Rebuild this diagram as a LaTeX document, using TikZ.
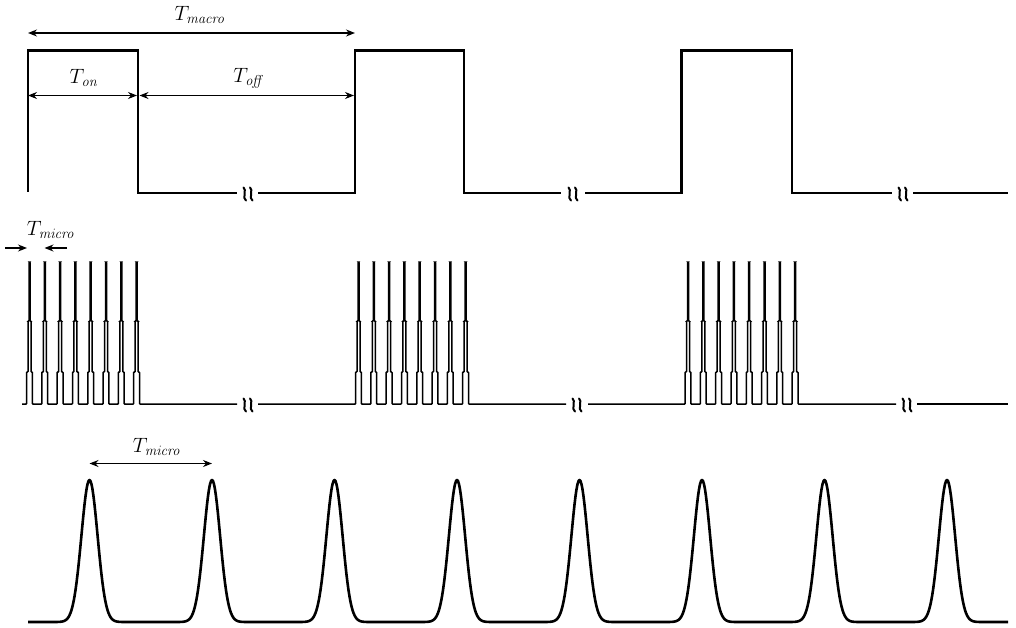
\documentclass[tikz,border=0pt]{standalone}
\usetikzlibrary{arrows.meta}
\tikzset{pulse line/.style={line width=2.2pt}}
\tikzset{spike line/.style={line width=1.5pt,rounded corners=0.6pt}}
\tikzset{gauss line/.style={line width=2.6pt,line join=round}}
\tikzset{dim line/.style={line width=1.3pt}}
\tikzset{break mark/.style={line width=2pt,line cap=round}}
\tikzset{period label/.style={font=\fontsize{21}{24}\selectfont,inner sep=0pt}}
% two wavy strokes marking an omitted stretch of time
\newcommand{\breakmark}[2]{%
  \draw[break mark] (#1-4.5,#2-6.5) .. controls (#1-1,#2-5) and (#1-6,#2+5) .. (#1-2,#2+6.5);
  \draw[break mark] (#1+2,#2-6.5) .. controls (#1+5.5,#2-5) and (#1+0.5,#2+5) .. (#1+4.5,#2+6.5);}
\newcommand{\period}[1]{$T_{\mathit{#1}}$}
\begin{document}
\begin{tikzpicture}[x=1pt,y=-1pt,>={Stealth[length=9pt,width=7pt]}]
\useasboundingbox (0,0) rectangle (1016,628);

% macro pulses
\draw[pulse line] (28,192) -- (28,50.5) -- (138,50.5) -- (138,193) -- (237,193);
\draw[pulse line] (258,193) -- (355,193) -- (355,50.5) -- (464,50.5) -- (464,193) -- (561,193);
\draw[pulse line] (585,193) -- (681.5,193) -- (681.5,50.5) -- (792,50.5) -- (792,193) -- (892,193);
\draw[pulse line] (913,193) -- (1008,193);
\breakmark{248}{194}
\breakmark{573}{194}
\breakmark{903}{194}

\coordinate (macroL) at (28,33);
\coordinate (macroR) at (355,33);
\coordinate (onL) at (28,95.5);
\coordinate (onR) at (137,95.5);
\coordinate (offL) at (139.5,95.5);
\coordinate (offR) at (354,95.5);
\draw[dim line,<->] (macroL) -- (macroR);
\draw[dim line,<->] (onL) -- (onR);
\draw[dim line,<->] (offL) -- (offR);
\node[period label] (Tmacro) at (200,15) {\period{macro}};
\node[period label] (Ton) at (84,78) {\period{on}};
\node[period label] (Toff) at (249,78) {\period{off}};

% micro pulse trains
\foreach \a/\g/\b in {22/29.5/237, 258/358.5/566, 588/688/896}
  \draw[spike line] (\a,404) foreach \p in {0,15.3,...,107.2} {
      -- ({\g+\p-2.9},404) -- ({\g+\p-2.9},372) -- ({\g+\p-1.5},372) -- ({\g+\p-1.5},321)
      -- ({\g+\p-0.5},321) -- ({\g+\p-0.5},262) -- ({\g+\p+0.5},262) -- ({\g+\p+0.5},321)
      -- ({\g+\p+1.5},321) -- ({\g+\p+1.5},372) -- ({\g+\p+2.9},372) -- ({\g+\p+2.9},404)
    } -- (\b,404);
\draw[spike line] (917,404) -- (1008,404);
\breakmark{248}{405}
\breakmark{577}{405}
\breakmark{907}{405}

\coordinate (microA) at (5,248);
\coordinate (microB) at (27,248);
\coordinate (microC) at (67,248);
\coordinate (microD) at (44.5,248);
\draw[dim line,->] (microA) -- (microB);
\draw[dim line,->] (microC) -- (microD);
\node[period label] (Tmicro) at (51,230) {\period{micro}};

% gaussian pulses
\draw[gauss line] (28,622) foreach \c in {89.5,212,334.5,457,579.5,702,824.5,947} {
    -- ({\c-32},622) -- plot[domain=\c-32:\c+32,samples=65]
       (\x,{622-142*exp(-0.5*((\x-\c)/8.1)*((\x-\c)/8.1))})
  } -- (1008,622);

\coordinate (gaussL) at (89.5,463.5);
\coordinate (gaussR) at (212,463.5);
\draw[dim line,<->] (gaussL) -- (gaussR);
\node[period label] (Tgauss) at (157,447) {\period{micro}};
\end{tikzpicture}
\end{document}
